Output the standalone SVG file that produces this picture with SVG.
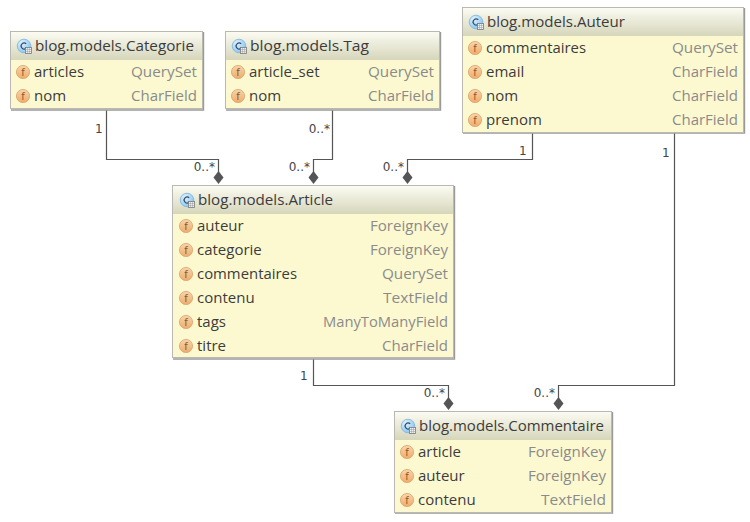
<svg xmlns="http://www.w3.org/2000/svg" xmlns:xlink="http://www.w3.org/1999/xlink" width="750" height="522" viewBox="0 0 750 522">
<style>
text{font-family:"Open Sans","Noto Sans",sans-serif;}
.box{fill:#fcf9d1;stroke:#b9b9b2;stroke-width:1}
.edge{fill:none;stroke:#9a9a9a;stroke-width:1.4}
.t{font-size:14.6px;fill:#3c3c3c}
.n{font-size:15px;fill:#3c3c3c}
.y{font-size:15px;fill:#8b8b8b;text-anchor:end}
.fi{fill:url(#fg);stroke:#dca36c;stroke-width:.8}
.fl{font-size:10px;fill:#8a5a22;text-anchor:middle;font-family:"DejaVu Sans",sans-serif}
.c{fill:none;stroke:#555;stroke-width:1.2}
.d{fill:#555}
.m{font-size:12px;fill:#444;font-family:"DejaVu Sans",sans-serif}
.me{text-anchor:end}
</style>
<defs>
<linearGradient id="hg" x1="0" y1="0" x2="0" y2="1"><stop offset="0" stop-color="#fbfbf2"/><stop offset="1" stop-color="#d6d6bb"/></linearGradient>
<linearGradient id="fg" x1="0" y1="0" x2="0" y2="1"><stop offset="0" stop-color="#f7d5ab"/><stop offset="1" stop-color="#efab6c"/></linearGradient>
<radialGradient id="cg" cx=".35" cy=".3" r=".8"><stop offset="0" stop-color="#e2f2ff"/><stop offset="1" stop-color="#7fc0ef"/></radialGradient>
<g id="ci">
<circle cx="0" cy="0" r="6.800" fill="url(#cg)" stroke="#7ab4de" stroke-width=".8"/>
<path d="M2.200-2.200A3 3 0 1 0 2.200 2.200" fill="none" stroke="#2f4f6a" stroke-width="1.200"/>
<rect x="1.500" y="1.500" width="6" height="6" fill="#eef2f4" stroke="#777" stroke-width=".8"/>
<path d="M3.500 1.500V7.500M5.500 1.500V7.500M1.500 3.500H7.500M1.500 5.500H7.500" stroke="#999" stroke-width=".5"/>
</g>
<g id="fi"><circle cx="0" cy="0" r="6.600" class="fi"/><text x="0" y="3.500" class="fl">f</text></g>
<path id="dm" d="M0-6.500L5 0 0 6.500-5 0Z" class="d"/>
</defs>

<g id="connectors">
<path class="c" d="M106.500 110V159.500H218.500V174"/>
<path class="c" d="M332.500 110V159.500H313.500V174"/>
<path class="c" d="M532.500 133V159.500H407.500V174"/>
<path class="c" d="M313.500 359V385.500H448.500V400"/>
<path class="c" d="M674.500 133V385.500H558.500V400"/>
<use xlink:href="#dm" x="218.500" y="177.500"/>
<use xlink:href="#dm" x="313.500" y="177.500"/>
<use xlink:href="#dm" x="407.500" y="177.500"/>
<use xlink:href="#dm" x="448.500" y="403.500"/>
<use xlink:href="#dm" x="558.500" y="403.500"/>
<text class="m" x="95" y="133">1</text>
<text class="m me" x="215" y="171">0..*</text>
<text class="m me" x="330" y="133">0..*</text>
<text class="m me" x="310" y="171">0..*</text>
<text class="m me" x="404" y="171">0..*</text>
<text class="m" x="519" y="155">1</text>
<text class="m" x="662" y="157">1</text>
<text class="m" x="300" y="380">1</text>
<text class="m me" x="445" y="397">0..*</text>
<text class="m me" x="555" y="397">0..*</text>
</g>

<g id="categorie">
<path class="edge" d="M203.500 32V110H11"/>
<rect class="box" x="10.500" y="31.500" width="192" height="77"/>
<rect x="11" y="32" width="191" height="28" fill="url(#hg)"/>
<use xlink:href="#ci" x="24" y="46"/>
<text class="t" x="35" y="51" textLength="159" lengthAdjust="spacingAndGlyphs">blog.models.Categorie</text>
<use xlink:href="#fi" x="23" y="72"/><text class="n" x="34" y="77">articles</text><text class="y" x="197" y="77" textLength="66" lengthAdjust="spacingAndGlyphs">QuerySet</text>
<use xlink:href="#fi" x="23" y="96"/><text class="n" x="34" y="101">nom</text><text class="y" x="197" y="101" textLength="66" lengthAdjust="spacingAndGlyphs">CharField</text>
</g>

<g id="tag">
<path class="edge" d="M440.500 32V110H226"/>
<rect class="box" x="225.500" y="31.500" width="214" height="77"/>
<rect x="226" y="32" width="213" height="28" fill="url(#hg)"/>
<use xlink:href="#ci" x="239" y="46"/>
<text class="t" x="250" y="51" textLength="119" lengthAdjust="spacingAndGlyphs">blog.models.Tag</text>
<use xlink:href="#fi" x="238" y="72"/><text class="n" x="249" y="77">article_set</text><text class="y" x="434" y="77" textLength="66" lengthAdjust="spacingAndGlyphs">QuerySet</text>
<use xlink:href="#fi" x="238" y="96"/><text class="n" x="249" y="101">nom</text><text class="y" x="434" y="101" textLength="66" lengthAdjust="spacingAndGlyphs">CharField</text>
</g>

<g id="auteur">
<path class="edge" d="M744.500 8V133H463"/>
<rect class="box" x="462.500" y="7.500" width="281" height="125"/>
<rect x="463" y="8" width="280" height="28" fill="url(#hg)"/>
<use xlink:href="#ci" x="476" y="22"/>
<text class="t" x="487" y="27" textLength="138" lengthAdjust="spacingAndGlyphs">blog.models.Auteur</text>
<use xlink:href="#fi" x="475" y="48"/><text class="n" x="486" y="53" textLength="100" lengthAdjust="spacingAndGlyphs">commentaires</text><text class="y" x="738" y="53" textLength="66" lengthAdjust="spacingAndGlyphs">QuerySet</text>
<use xlink:href="#fi" x="475" y="72"/><text class="n" x="486" y="77">email</text><text class="y" x="738" y="77" textLength="66" lengthAdjust="spacingAndGlyphs">CharField</text>
<use xlink:href="#fi" x="475" y="96"/><text class="n" x="486" y="101">nom</text><text class="y" x="738" y="101" textLength="66" lengthAdjust="spacingAndGlyphs">CharField</text>
<use xlink:href="#fi" x="475" y="120"/><text class="n" x="486" y="125">prenom</text><text class="y" x="738" y="125" textLength="66" lengthAdjust="spacingAndGlyphs">CharField</text>
</g>

<g id="article">
<path class="edge" d="M454.500 186V359H173"/>
<rect class="box" x="172.500" y="185.500" width="281" height="172"/>
<rect x="173" y="186" width="280" height="28" fill="url(#hg)"/>
<use xlink:href="#ci" x="187" y="200"/>
<text class="t" x="198" y="205" textLength="135" lengthAdjust="spacingAndGlyphs">blog.models.Article</text>
<use xlink:href="#fi" x="186" y="226"/><text class="n" x="197" y="231">auteur</text><text class="y" x="448" y="231" textLength="78" lengthAdjust="spacingAndGlyphs">ForeignKey</text>
<use xlink:href="#fi" x="186" y="250"/><text class="n" x="197" y="255">categorie</text><text class="y" x="448" y="255" textLength="78" lengthAdjust="spacingAndGlyphs">ForeignKey</text>
<use xlink:href="#fi" x="186" y="274"/><text class="n" x="197" y="279" textLength="100" lengthAdjust="spacingAndGlyphs">commentaires</text><text class="y" x="448" y="279" textLength="66" lengthAdjust="spacingAndGlyphs">QuerySet</text>
<use xlink:href="#fi" x="186" y="298"/><text class="n" x="197" y="303">contenu</text><text class="y" x="448" y="303" textLength="65" lengthAdjust="spacingAndGlyphs">TextField</text>
<use xlink:href="#fi" x="186" y="322"/><text class="n" x="197" y="327">tags</text><text class="y" x="448" y="327" textLength="125" lengthAdjust="spacingAndGlyphs">ManyToManyField</text>
<use xlink:href="#fi" x="186" y="346"/><text class="n" x="197" y="351">titre</text><text class="y" x="448" y="351" textLength="66" lengthAdjust="spacingAndGlyphs">CharField</text>
</g>

<g id="commentaire">
<path class="edge" d="M612.500 412V513H395"/>
<rect class="box" x="394.500" y="411.500" width="217" height="101"/>
<rect x="395" y="412" width="216" height="28" fill="url(#hg)"/>
<use xlink:href="#ci" x="408" y="426"/>
<text class="t" x="419" y="431" textLength="185" lengthAdjust="spacingAndGlyphs">blog.models.Commentaire</text>
<use xlink:href="#fi" x="407" y="452"/><text class="n" x="418" y="457">article</text><text class="y" x="606" y="457" textLength="78" lengthAdjust="spacingAndGlyphs">ForeignKey</text>
<use xlink:href="#fi" x="407" y="476"/><text class="n" x="418" y="481">auteur</text><text class="y" x="606" y="481" textLength="78" lengthAdjust="spacingAndGlyphs">ForeignKey</text>
<use xlink:href="#fi" x="407" y="500"/><text class="n" x="418" y="505">contenu</text><text class="y" x="606" y="505" textLength="65" lengthAdjust="spacingAndGlyphs">TextField</text>
</g>
</svg>
